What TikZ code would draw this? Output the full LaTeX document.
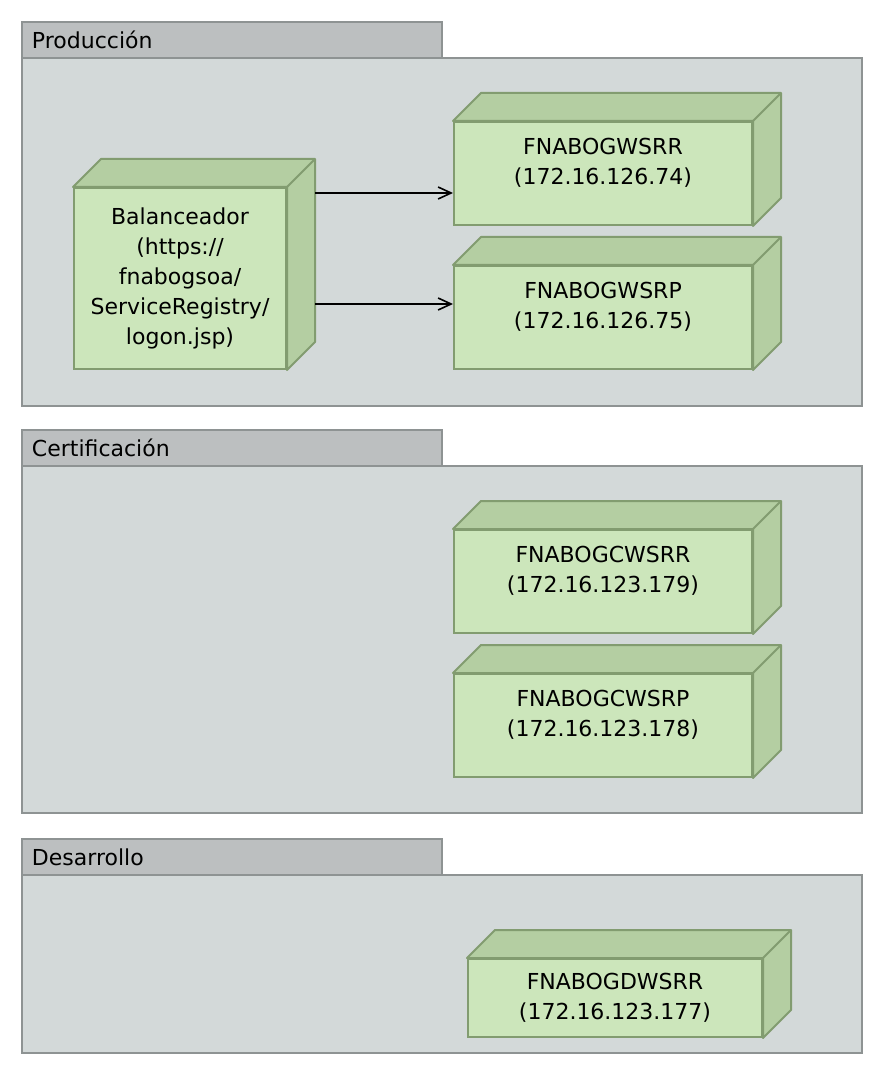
\documentclass[tikz,border=0pt]{standalone}
\usepackage{fontspec}
\setmainfont{DejaVu Sans}
\usepackage{tikz}
\usetikzlibrary{arrows.meta,positioning}
\definecolor{PkgTab}{RGB}{188,191,192}
\definecolor{PkgBody}{RGB}{211,217,217}
\definecolor{PkgLine}{RGB}{142,147,147}
\definecolor{NodeFront}{RGB}{204,230,187}
\definecolor{NodeSide}{RGB}{180,206,162}
\definecolor{NodeLine}{RGB}{130,156,112}

\begin{document}
\begin{tikzpicture} [x=0.5pt, y=-0.5pt, >={Straight Barb[length=6.5pt,width=6pt]},
	   every node/.style={font=\fontsize{11}{15}\selectfont, text=black},
	   pkgtab/.style = {rectangle, draw=PkgLine, fill=PkgTab, line width=1pt, anchor=north west,
	                    minimum width=210pt, minimum height=18pt, inner xsep=5pt,
	                    text width=200pt, align=left},
	   pkgbody/.style 2 args = {rectangle, draw=PkgLine, fill=PkgBody, line width=1pt,
	                    anchor=north west, minimum width=#1, minimum height=#2, inner sep=0pt},
	   server/.style 2 args = {rectangle, draw=NodeLine, fill=NodeFront, line width=1pt,
	                    anchor=north west, minimum width=#1, minimum height=#2,
	                    inner sep=0pt, align=center},
	   side/.style = {draw=NodeLine, fill=NodeSide, line width=1pt, line join=round},
	   link/.style = {->, black, line width=0.8pt}]
	\useasboundingbox (0,0) rectangle (882,1074);

	%% Packages
	\node [pkgbody={420pt}{174pt}] (prod) at (21,57) {};
	\node [pkgtab] (prodtab) at (21,21) {Producción};
	\node [pkgbody={420pt}{173.5pt}] (cert) at (21,465) {};
	\node [pkgtab] (certtab) at (21,429) {Certificación};
	\node [pkgbody={420pt}{89pt}] (des) at (21,874) {};
	\node [pkgtab] (destab) at (21,838) {Desarrollo};

	%% Servers
	\node [server={106pt}{90.5pt}] (bal) at (73,187)
	      {Balanceador\\(https://\\fnabogsoa/\\ServiceRegistry/\\logon.jsp)};
	\node [server={149pt}{51.5pt}, label={[shift={(0pt,5.5pt)},align=center]center:{FNABOGWSRR\\(172.16.126.74)}}] (wsrr) at (453,121) {};
	\node [server={149pt}{51.5pt}, label={[shift={(0pt,5.5pt)},align=center]center:{FNABOGWSRP\\(172.16.126.75)}}] (wsrp) at (453,265) {};
	\node [server={149pt}{51.5pt}, label={[shift={(0pt,5.5pt)},align=center]center:{FNABOGCWSRR\\(172.16.123.179)}}] (cwsrr) at (453,529) {};
	\node [server={149pt}{51.5pt}, label={[shift={(0pt,5.5pt)},align=center]center:{FNABOGCWSRP\\(172.16.123.178)}}] (cwsrp) at (453,673) {};
	\node [server={147pt}{39pt}] (dwsrr) at (467,958) {FNABOGDWSRR\\(172.16.123.177)};

	%% Depth of the boxes
	\foreach \n in {bal,wsrr,wsrp,cwsrr,cwsrp,dwsrr} {
		\filldraw [side] (\n.north west) -- ++(14pt,14pt) -| ([shift={(14pt,14pt)}]\n.south east)
		      -- (\n.south east) -- (\n.north east) -- (\n.north west) -- cycle;
		\draw [side] (\n.north east) -- ++(14pt,14pt);
	}

	%% Links
	\coordinate (a1) at ([shift={(14pt,-3pt)}]bal.north east);
	\coordinate (a2) at ([shift={(14pt,33pt)}]bal.south east);
	\draw [link] (a1) -- (a1 -| wsrr.west);
	\draw [link] (a2) -- (a2 -| wsrp.west);
\end{tikzpicture}
\end{document}
